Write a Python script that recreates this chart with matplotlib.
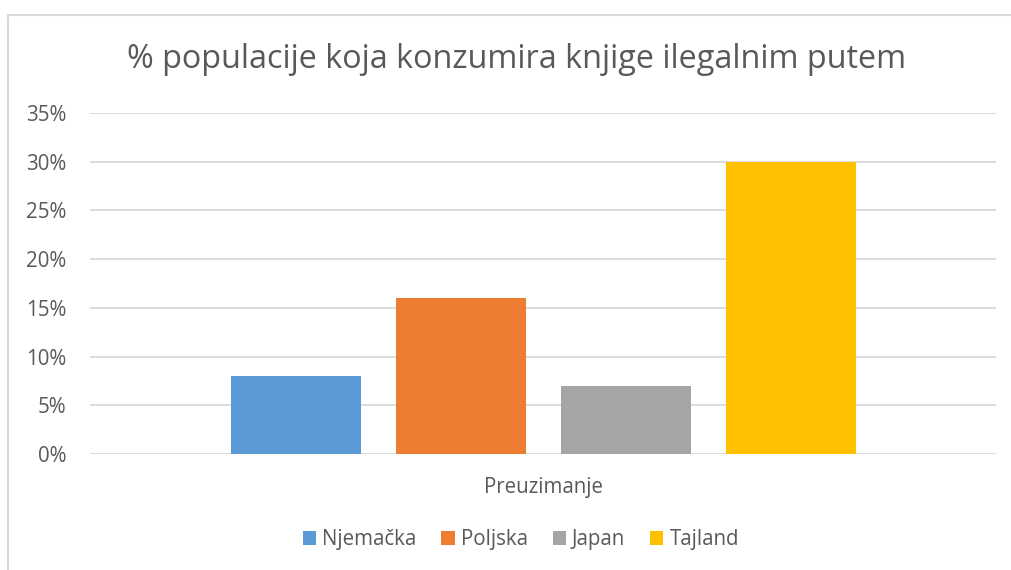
import matplotlib
matplotlib.use("Agg")
import matplotlib.pyplot as plt
from matplotlib.lines import Line2D
from matplotlib.patches import Patch

categories = ["Njemačka", "Poljska", "Japan", "Tajland"]
values = [0.08, 0.16, 0.07, 0.30]
colors = ["#5B9BD5", "#ED7D31", "#A5A5A5", "#FFC000"]
yticks = [0, 0.05, 0.10, 0.15, 0.20, 0.25, 0.30, 0.35]
ytick_labels = ["0%", "5%", "10%", "15%", "20%", "25%", "30%", "35%"]
title = "% populacije koja konzumira knjige ilegalnim putem"
xlabel = "Preuzimanje"

plt.rcParams['font.family'] = ['Open Sans', 'DejaVu Sans']
W, H = 1011, 570
fig = plt.figure(figsize=(W/100, H/100), dpi=100)
ax = fig.add_axes([90/W, 1-454/H, (996-90)/W, (454-113)/H])

txt = "#595959"
grid = "#D9D9D9"
for i, (v, c) in enumerate(zip(values, colors)):
    ax.bar(i, v, width=130/165, color=c, zorder=3)

ax.set_xlim((90-296)/165, (996-296)/165)
ax.set_ylim(0, 0.35)
ax.set_yticks(yticks)
ax.set_yticklabels(ytick_labels, color=txt, fontsize=14.8)
ax.set_xticks([])
ax.tick_params(axis='y', length=0, pad=17)
ax.grid(axis='y', color=grid, linewidth=1.3, zorder=0)
for s in ax.spines.values():
    s.set_visible(False)

fig.text(517/W, 1-60/H, title, ha='center', va='center', fontsize=23.3, color=txt)
fig.text(543/W, 1-488/H, xlabel, ha='center', va='center', fontsize=14.8, color=txt)

handles = [Patch(facecolor=c, edgecolor='none') for c in colors]
fig.legend(handles, categories, loc='center', bbox_to_anchor=(521/W, 1-540/H), ncol=4,
           frameon=False, fontsize=14.8, labelcolor=txt, handlelength=0.65, handleheight=0.65,
           handletextpad=0.3, columnspacing=1.2)

fig.add_artist(Line2D([8/W, 8/W], [0, 1-15/H], color=grid, linewidth=1.5, transform=fig.transFigure))
fig.add_artist(Line2D([8/W, 1], [1-15/H, 1-15/H], color=grid, linewidth=1.5, transform=fig.transFigure))

fig.savefig("out.png", dpi=100)
